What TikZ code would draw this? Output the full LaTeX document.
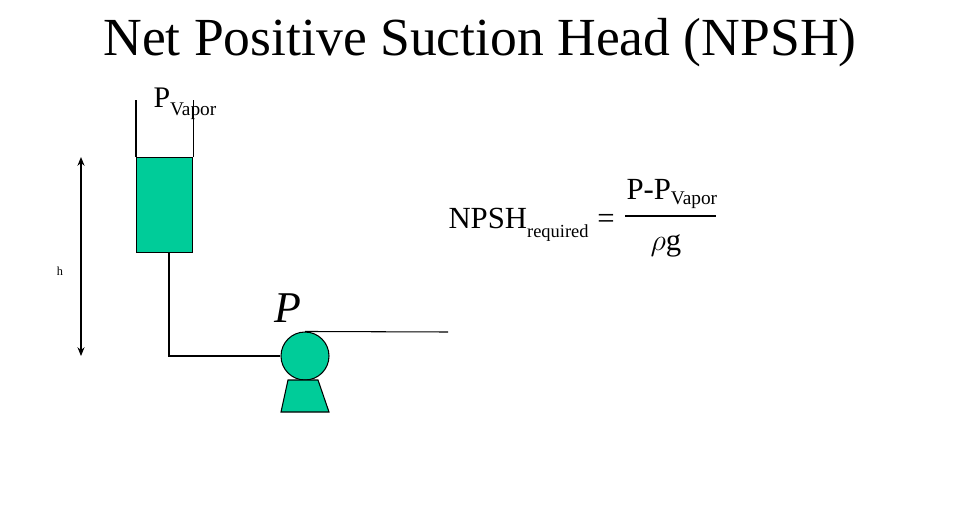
\documentclass[tikz,border=0pt]{standalone}
\usepackage{fontspec}
\setmainfont{Liberation Serif}
\usetikzlibrary{arrows.meta}
\definecolor{liq}{HTML}{00CC99}
\begin{document}
\begin{tikzpicture}[x=0.02cm,y=-0.02cm,line width=0.6pt,
  fillshape/.style={draw=black,fill=liq}]
\useasboundingbox (0,0) rectangle (960,504);
\node (title) at (480,43) {\fontsize{30.5}{34}\selectfont Net Positive Suction Head (NPSH)};
% tank
\node[fillshape,minimum width=56*0.02cm,minimum height=95*0.02cm,inner sep=0,anchor=north west] (liquid) at (136,157) {};
\draw (liquid.north west) -- ++(0,-57);
\draw (liquid.north east) -- ++(0,-57);
\node[anchor=base west,inner sep=0] (pv) at (153,107) {\fontsize{17}{18}\selectfont P\raisebox{-0.6ex}{\fontsize{11}{12}\selectfont Vapor}};
% pump
\node[fillshape,circle,minimum size=48*0.02cm,inner sep=0] (pump) at (305,356) {};
\coordinate (outlet) at (448,332);
\coordinate (drop) at (169,252);
\draw (pump.north) -- (outlet);
\draw (drop) |- (pump.west);
\draw[fillshape] (288,380) -- (318,380) -- (329,412) -- (281,412) -- cycle;
\node (plabel) at (288,308) {\fontsize{25}{28}\selectfont\itshape P};
% height arrow
\coordinate (htop) at (81,157);
\coordinate (hbot) at (81,356);
\draw[{Stealth[length=5pt,width=4pt]}-{Stealth[length=5pt,width=4pt]}] (htop) -- (hbot);
\node (h) at (60,271) {\fontsize{7}{8}\selectfont h};
% formula
\node[anchor=base west,inner sep=0] (npsh) at (448,228) {\fontsize{17.5}{20}\selectfont NPSH\raisebox{-0.7ex}{\fontsize{10.5}{12}\selectfont required}};
\node[anchor=base,inner sep=0] (eq) at (606,228) {\fontsize{17.5}{20}\selectfont =};
\draw (625,216) -- (716,216);
\node[anchor=base west,inner sep=0] (num) at (626,199) {\fontsize{17.5}{20}\selectfont P-P\raisebox{-0.4ex}{\fontsize{11}{12}\selectfont Vapor}};
\node[anchor=base,inner sep=0] (den) at (666,250) {\fontsize{17.5}{20}\selectfont $\rho$g};
\end{tikzpicture}
\end{document}
